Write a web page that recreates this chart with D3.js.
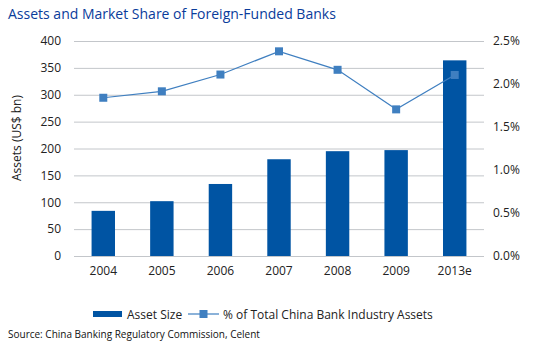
<!DOCTYPE html>
<html><head><meta charset="utf-8">
<script src="https://cdn.jsdelivr.net/npm/d3@7"></script>
<style>
body{margin:0;background:#fff;}
text{font-family:"Open Sans",sans-serif;}
</style></head>
<body><svg id="c" width="538" height="348"></svg>
<script>
const categories = ["2004","2005","2006","2007","2008","2009","2013e"];
const assetSize = [84, 102, 134, 180, 195, 197, 364];
const marketShare = [1.84, 1.915, 2.11, 2.38, 2.165, 1.705, 2.105];
const leftTicks = [0,50,100,150,200,250,300,350,400];
const rightTicks = [0,0.5,1,1.5,2,2.5];

const svg = d3.select("#c");
const m = {l:74, r:484, t:41, b:256};
const x = d3.scaleBand().domain(categories).range([m.l, m.r]).paddingInner(0.6).paddingOuter(0.3);
const y = d3.scaleLinear().domain([0,400]).range([m.b, m.t]);
const y2 = d3.scaleLinear().domain([0,2.5]).range([m.b, m.t]);

// title
svg.append("text").attr("x",8).attr("y",19).attr("fill","#0a3c9b").style("font-size","14px").text("Assets and Market Share of Foreign-Funded Banks");

// gridlines
svg.append("g").selectAll("line").data(leftTicks).join("line")
  .attr("x1",m.l).attr("x2",m.r).attr("y1",d=>y(d)+0.5).attr("y2",d=>y(d)+0.5)
  .attr("stroke","#c3c6ca").attr("stroke-width",1);

// left axis
const la = svg.append("g").attr("transform",`translate(${m.l},0)`)
  .call(d3.axisLeft(y).tickValues(leftTicks).tickSize(0).tickPadding(13));
la.select(".domain").remove();
la.selectAll("text").style("font-size","12px").attr("fill","#222").style("font-family","'Open Sans',sans-serif");

// right axis
const ra = svg.append("g").attr("transform",`translate(${m.r},0)`)
  .call(d3.axisRight(y2).tickValues(rightTicks).tickSize(0).tickPadding(9).tickFormat(d=>d.toFixed(1)+"%"));
ra.select(".domain").remove();
ra.selectAll("text").style("font-size","12px").attr("fill","#222").style("font-family","'Open Sans',sans-serif");

// bottom axis
const ba = svg.append("g").attr("transform",`translate(0,${m.b})`)
  .call(d3.axisBottom(x).tickSize(0).tickPadding(10));
ba.select(".domain").remove();
ba.selectAll("text").style("font-size","12px").attr("fill","#222").style("font-family","'Open Sans',sans-serif");

// y label
svg.append("text").attr("transform","translate(21,138) rotate(-90)").attr("text-anchor","middle")
  .style("font-size","12px").attr("fill","#222").text("Assets (US$ bn)");

// bars
svg.append("g").selectAll("rect").data(assetSize).join("rect")
  .attr("x",(d,i)=>x(categories[i])).attr("width",x.bandwidth())
  .attr("y",d=>y(d)).attr("height",d=>m.b-y(d)).attr("fill","#0054a3");

// line
const cx = i => x(categories[i]) + x.bandwidth()/2;
svg.append("path").datum(marketShare)
  .attr("d", d3.line().x((d,i)=>cx(i)).y(d=>y2(d)))
  .attr("fill","none").attr("stroke","#3f7fc0").attr("stroke-width",1.2);
svg.append("g").selectAll("rect").data(marketShare).join("rect")
  .attr("x",(d,i)=>cx(i)-4).attr("y",d=>y2(d)-4).attr("width",8).attr("height",8)
  .attr("fill","#3f7fc0");

// legend
const lg = svg.append("g");
lg.append("rect").attr("x",93).attr("y",311).attr("width",29).attr("height",6).attr("fill","#0054a3");
lg.append("text").attr("x",127).attr("y",318.5).style("font-size","12px").attr("fill","#222").text("Asset Size");
lg.append("line").attr("x1",188).attr("x2",219).attr("y1",314).attr("y2",314).attr("stroke","#3f7fc0").attr("stroke-width",1.2);
lg.append("rect").attr("x",199.5).attr("y",310).attr("width",8).attr("height",8).attr("fill","#3f7fc0");
lg.append("text").attr("x",223).attr("y",318.5).style("font-size","12px").attr("fill","#222").text("% of Total China Bank Industry Assets");

// source
svg.append("text").attr("x",8).attr("y",338).style("font-size","10px").attr("fill","#111").text("Source: China Banking Regulatory Commission, Celent");
</script></body></html>
